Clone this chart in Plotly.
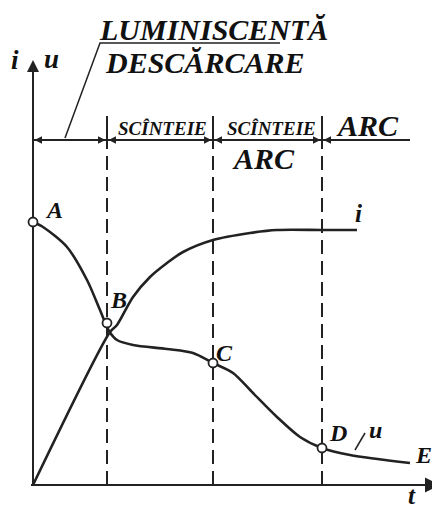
import plotly.graph_objects as go

# ---- data (t origin at the axes corner) ----
t_u = [0, 10, 34, 54, 67, 76, 84, 100, 134, 160, 180, 200, 220, 244, 267, 289, 317, 377]
u_vals = [263, 258, 238, 205, 175, 154, 145, 140, 136, 132, 122, 112, 92, 68, 48, 37, 30, 22]
t_i = [0, 77, 84, 100, 117, 134, 150, 180, 217, 244, 289, 324]
i_vals = [0, 153, 160, 188, 208, 222, 233, 245, 252, 255, 255, 255]

point_names = ["A", "B", "C", "D"]
point_t = [0, 74, 180, 289]
point_v = [263, 162, 122, 37]

boundaries = [74, 180, 289]
band_y = 345
band_end = 377

INK = "#222222"
FONT = "Liberation Serif"

fig = go.Figure()

# axes
fig.add_trace(go.Scatter(x=[0, 0], y=[0, 418], mode="lines", line=dict(color=INK, width=2), hoverinfo="skip"))
fig.add_trace(go.Scatter(x=[-2, 398], y=[0, 0], mode="lines", line=dict(color=INK, width=2), hoverinfo="skip"))

# band line
fig.add_trace(go.Scatter(x=[0, band_end], y=[band_y, band_y], mode="lines", line=dict(color=INK, width=1.8), hoverinfo="skip"))

# vertical boundaries
for b in boundaries:
    fig.add_trace(go.Scatter(x=[b, b], y=[band_y - 5, 369], mode="lines", line=dict(color=INK, width=2), hoverinfo="skip"))
    fig.add_trace(go.Scatter(x=[b, b], y=[0, band_y - 5], mode="lines",
                             line=dict(color=INK, width=2, dash="14px,7px"), hoverinfo="skip"))

# curves
fig.add_trace(go.Scatter(x=t_u, y=u_vals, mode="lines", line=dict(color=INK, width=2.6, shape="spline", smoothing=0.8), hoverinfo="skip"))
fig.add_trace(go.Scatter(x=t_i, y=i_vals, mode="lines", line=dict(color=INK, width=2.6, shape="spline", smoothing=0.8), hoverinfo="skip"))

# leader lines
fig.add_trace(go.Scatter(x=[32, 67, 247], y=[347, 442, 442], mode="lines", line=dict(color=INK, width=1.5), hoverinfo="skip"))
fig.add_trace(go.Scatter(x=[332, 322], y=[52, 35], mode="lines", line=dict(color=INK, width=1.5), hoverinfo="skip"))

# marked points
fig.add_trace(go.Scatter(x=point_t, y=point_v, mode="markers",
                         marker=dict(size=9, color="white", line=dict(color=INK, width=1.8)), hoverinfo="skip"))

annotations = []
# axis arrows
annotations.append(dict(x=0, y=425, ax=0, ay=400, xref="x", yref="y", axref="x", ayref="y",
                        showarrow=True, arrowhead=2, arrowsize=1.2, arrowwidth=2, arrowcolor=INK, text=""))
annotations.append(dict(x=407, y=0, ax=380, ay=0, xref="x", yref="y", axref="x", ayref="y",
                        showarrow=True, arrowhead=2, arrowsize=1.5, arrowwidth=2, arrowcolor=INK, text=""))
# band arrows pointing at boundaries
edges = [0] + boundaries
for k, b in enumerate(edges):
    annotations.append(dict(x=b + 1.5, y=band_y, ax=b + 14, ay=band_y, xref="x", yref="y", axref="x", ayref="y",
                            showarrow=True, arrowhead=2, arrowsize=1, arrowwidth=1.5, arrowcolor=INK, text=""))
    if k > 0:
        annotations.append(dict(x=b - 1.5, y=band_y, ax=b - 14, ay=band_y, xref="x", yref="y", axref="x", ayref="y",
                                showarrow=True, arrowhead=2, arrowsize=1, arrowwidth=1.5, arrowcolor=INK, text=""))


def label(text, x, y, size):
    annotations.append(dict(x=x, y=y, xref="x", yref="y", text=text, showarrow=False,
                            font=dict(family=FONT, size=size, color="#111111", weight="bold", style="italic"),
                            xanchor="center", yanchor="middle"))


label("LUMINISCENTĂ", 180, 456, 30)
label("DESCĂRCARE", 171, 423, 30)
label("SCÎNTEIE", 129, 357, 19)
label("SCÎNTEIE", 238, 357, 19)
label("ARC", 334, 360, 30)
label("ARC", 230, 327, 30)
label("i", -18, 425, 27)
label("u", 18, 426, 27)
label("A", 21, 275, 24)
label("B", 85, 185, 24)
label("C", 191, 132, 24)
label("D", 305, 52, 24)
label("u", 342, 55, 24)
label("E", 390, 30, 24)
label("i", 325, 272, 25)
label("t", 379, -10, 25)

# the page body has an 8px margin: the figure starts 8px in from the top-left
fig.update_layout(
    width=432, height=502,
    margin=dict(l=0, r=0, t=0, b=0),
    paper_bgcolor="white", plot_bgcolor="white",
    showlegend=False,
    xaxis=dict(range=[-25, 407], visible=False, fixedrange=True),
    yaxis=dict(range=[-25, 477], visible=False, fixedrange=True),
    annotations=annotations,
)

fig.write_html("out.html")
